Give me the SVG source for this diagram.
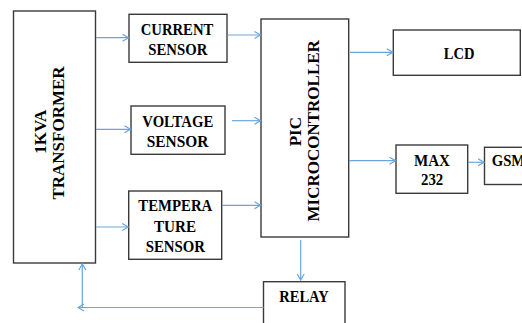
<svg xmlns="http://www.w3.org/2000/svg" width="522" height="323" viewBox="0 0 522 323">
<style>
.box{fill:#fff;stroke:#3a3a3a;stroke-width:1.4}
.lbl{font-family:'Liberation Serif','DejaVu Serif','Times New Roman',serif;font-weight:700;font-size:17px;fill:#000}
.con{fill:none;stroke:#6AA5DD;stroke-width:1.2}
</style>
<defs>
<marker id="ah" markerUnits="userSpaceOnUse" markerWidth="8" markerHeight="9" refX="6.5" refY="4" orient="auto">
<path d="M0.5,0.5 L6.5,4 L0.5,7.5" fill="none" stroke="#6AA5DD" stroke-width="1.2"/>
</marker>
</defs>
<rect width="522" height="323" fill="#fff"/>
<g id="transformer">
<rect class="box" x="13.5" y="11" width="82" height="252"/>
<text class="lbl" text-anchor="middle" transform="translate(46,131.7) rotate(-90)">1KVA</text>
<text class="lbl" text-anchor="middle" transform="translate(64,133) rotate(-90)">TRANSFORMER</text>
</g>
<g id="current-sensor">
<rect class="box" x="129" y="14.3" width="98" height="48"/>
<text class="lbl" x="140.7" y="35" textLength="72.6" lengthAdjust="spacingAndGlyphs">CURRENT</text>
<text class="lbl" x="148.3" y="55" textLength="59" lengthAdjust="spacingAndGlyphs">SENSOR</text>
</g>
<g id="voltage-sensor">
<rect class="box" x="131" y="106" width="94" height="48.3"/>
<text class="lbl" x="142.3" y="126.7" textLength="71" lengthAdjust="spacingAndGlyphs">VOLTAGE</text>
<text class="lbl" x="146.7" y="146.7" textLength="61.7" lengthAdjust="spacingAndGlyphs">SENSOR</text>
</g>
<g id="temperature-sensor">
<rect class="box" x="128.7" y="191" width="93" height="68.3"/>
<text class="lbl" x="138.3" y="211" textLength="74" lengthAdjust="spacingAndGlyphs">TEMPERA</text>
<text class="lbl" x="154" y="232" textLength="42" lengthAdjust="spacingAndGlyphs">TURE</text>
<text class="lbl" x="145.7" y="252" textLength="59.3" lengthAdjust="spacingAndGlyphs">SENSOR</text>
</g>
<g id="pic">
<rect class="box" x="261" y="19" width="87.7" height="218"/>
<text class="lbl" text-anchor="middle" transform="translate(300.7,131.7) rotate(-90)">PIC</text>
<text class="lbl" text-anchor="middle" transform="translate(319.3,130.8) rotate(-90)">MICROCONTROLLER</text>
</g>
<g id="lcd">
<rect class="box" x="393.3" y="30" width="127" height="45.3"/>
<text class="lbl" x="443.7" y="59.3" textLength="30.7" lengthAdjust="spacingAndGlyphs">LCD</text>
</g>
<g id="max232">
<rect class="box" x="396" y="145" width="71.7" height="48.3"/>
<text class="lbl" x="414" y="166" textLength="36" lengthAdjust="spacingAndGlyphs">MAX</text>
<text class="lbl" x="421" y="185" textLength="22.3" lengthAdjust="spacingAndGlyphs">232</text>
</g>
<g id="gsm">
<rect class="box" x="484.5" y="147.3" width="45" height="37.2"/>
<text class="lbl" x="491.7" y="166" textLength="33.5" lengthAdjust="spacingAndGlyphs">GSM</text>
</g>
<g id="relay">
<rect class="box" x="263.5" y="281.7" width="81.5" height="50"/>
<text class="lbl" x="279.3" y="301.7" textLength="49.4" lengthAdjust="spacingAndGlyphs">RELAY</text>
</g>
<g id="connectors">
<line class="con" x1="96" y1="37.7" x2="128.5" y2="37.7" marker-end="url(#ah)"/>
<line class="con" x1="96" y1="129.3" x2="130.5" y2="129.3" marker-end="url(#ah)"/>
<line class="con" x1="96" y1="227" x2="128.2" y2="227" marker-end="url(#ah)"/>
<line class="con" x1="227.5" y1="35" x2="260.5" y2="35" marker-end="url(#ah)"/>
<line class="con" x1="232" y1="120.7" x2="260.5" y2="120.7" marker-end="url(#ah)"/>
<line class="con" x1="222" y1="205.3" x2="260.5" y2="205.3" marker-end="url(#ah)"/>
<line class="con" x1="350" y1="52.3" x2="392.8" y2="52.3" marker-end="url(#ah)"/>
<line class="con" x1="349" y1="160.7" x2="395.5" y2="160.7" marker-end="url(#ah)"/>
<line class="con" x1="468" y1="162.3" x2="484" y2="162.3" marker-end="url(#ah)"/>
<line class="con" x1="300.7" y1="240" x2="300.7" y2="280" marker-end="url(#ah)"/>
<line class="con" x1="263.5" y1="307.5" x2="78" y2="307.5" marker-end="url(#ah)"/>
<line class="con" x1="82.3" y1="308" x2="82.3" y2="264" marker-end="url(#ah)"/>
</g>
</svg>
